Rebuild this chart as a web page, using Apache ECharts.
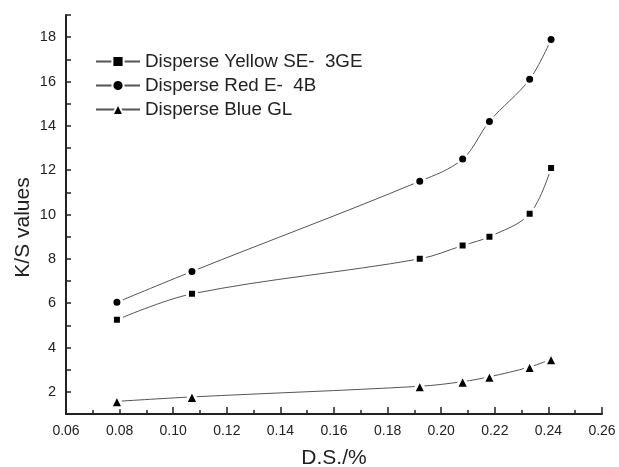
<!DOCTYPE html>
<html><head><meta charset="utf-8">
<script src="https://cdn.jsdelivr.net/npm/echarts@6/dist/echarts.min.js"></script>
<style>html,body{margin:0;padding:0;background:#fff}#c{width:619px;height:467px}</style>
</head><body><div id="c"></div>
<script>
const dsValues = [0.079, 0.107, 0.192, 0.208, 0.218, 0.233, 0.241];
const yellowSE3GE = [5.25, 6.42, 8.0, 8.6, 9.0, 10.03, 12.1];
const redE4B = [6.04, 7.43, 11.5, 12.5, 14.2, 16.1, 17.9];
const blueGL = [1.57, 1.77, 2.25, 2.46, 2.68, 3.12, 3.47];
const seriesNames = ['Disperse Yellow SE-  3GE', 'Disperse Red E-  4B', 'Disperse Blue GL'];
const xTickLabels = ['0.06','0.08','0.10','0.12','0.14','0.16','0.18','0.20','0.22','0.24','0.26'];
const yTickLabels = ['2','4','6','8','10','12','14','16','18'];

const font = 'Liberation Sans, Arial, sans-serif';
function pairs(ys){ return dsValues.map((x,i)=>[x, ys[i]]); }
function mkSeries(name, ys, symbol, size){
  return {
    name, type:'line', data: pairs(ys), smooth: 0.35,
    symbol, symbolSize: size,
    lineStyle:{color:'#555', width:1},
    itemStyle:{color:'#000', borderColor:'#fff', borderWidth:3},
    emphasis:{disabled:true}
  };
}
const chart = echarts.init(document.getElementById('c'), null, {renderer:'canvas'});
chart.setOption({
  animation:false,
  backgroundColor:'#fff',
  grid:{left:66, right:17, top:15, bottom:53, containLabel:false, outerBoundsMode:'none'},
  legend:{
    left:90, top:47, orient:'vertical', itemGap:5, itemWidth:44, itemHeight:14,
    textStyle:{fontFamily:font, fontSize:18.8, color:'#222'},
    data: seriesNames
  },
  xAxis:{
    type:'value', min:0.06, max:0.26, interval:0.02,
    name:'D.S./%', nameLocation:'middle', nameGap:34, nameMoveOverlap:false,
    nameTextStyle:{fontFamily:font, fontSize:21, color:'#222'},
    axisLine:{lineStyle:{color:'#222', width:2}},
    axisTick:{inside:true, length:7, lineStyle:{color:'#222', width:1.5}},
    minorTick:{show:true, splitNumber:2, length:4, lineStyle:{color:'#222', width:1.5}},
    axisLabel:{fontFamily:font, fontSize:14, color:'#222', margin:10,
      formatter:(v)=>{ const i=Math.round((v-0.06)/0.02); return xTickLabels[i]||''; }},
    splitLine:{show:false}
  },
  yAxis:{
    type:'value', min:1, max:19, interval:1,
    name:'K/S values', nameLocation:'middle', nameGap:32, nameMoveOverlap:false,
    nameTextStyle:{fontFamily:font, fontSize:21, color:'#222', padding:[0,26,0,0]},
    axisLine:{lineStyle:{color:'#222', width:2}},
    axisTick:{inside:true, length:5, lineStyle:{color:'#222', width:1.5}},
    axisLabel:{fontFamily:font, fontSize:14.5, color:'#222', margin:10,
      formatter:(v)=>{ return (v%2===0 && yTickLabels.includes(String(v))) ? String(v) : ''; }},
    splitLine:{show:false}
  },
  series:[
    mkSeries(seriesNames[0], yellowSE3GE, 'rect', 9),
    mkSeries(seriesNames[1], redE4B, 'circle', 10),
    mkSeries(seriesNames[2], blueGL, 'triangle', 13)
  ]
});
</script></body></html>
